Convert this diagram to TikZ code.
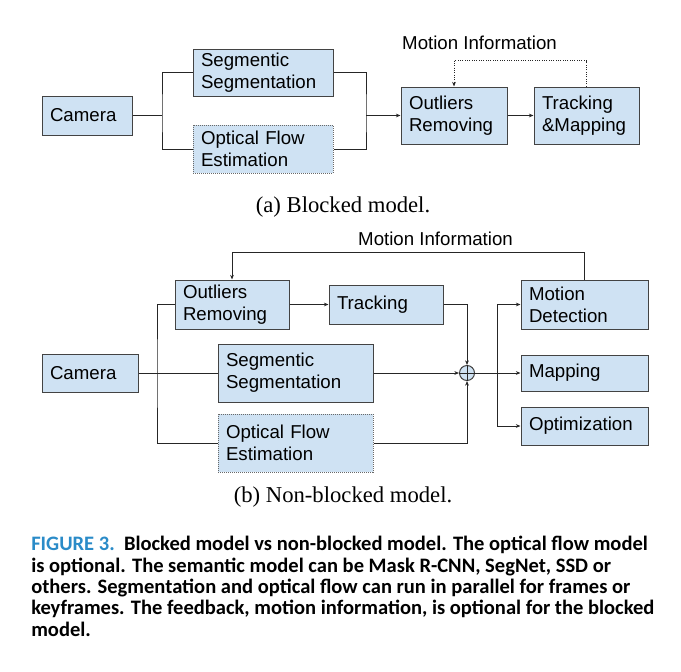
\documentclass[tikz,border=0pt]{standalone}
\usepackage{fontspec}
\setmainfont{Liberation Serif}
\newfontfamily\diagfont{Liberation Sans}
\newfontfamily\capfont{Carlito}
\usetikzlibrary{arrows.meta}
\definecolor{blockfill}{HTML}{CFE2F3}
\definecolor{blockline}{HTML}{434343}
\definecolor{capblue}{HTML}{2A8BC8}
\tikzset{block style/.style={
		draw=blockline,
		line width=0.75pt,
		fill=blockfill,
		text=black,
		rectangle,
		align=left,
		inner xsep=6pt,
		inner ysep=0pt,
		font=\diagfont\fontsize{14}{16.5}\selectfont,
	},
	optional style/.style={
		block style,
		draw=blockline!80,
		dash pattern=on 0.75pt off 0.75pt,
	},
	plus style/.style={
		draw=blockline,
		line width=0.75pt,
		fill=blockfill,
		circle,
		inner sep=0pt,
		minimum size=11.25pt,
	},
	wire style/.style={
		draw=black!85,
		line width=0.75pt,
	},
	feedback style/.style={
		wire style,
		dash pattern=on 0.75pt off 1pt,
	},
	label style/.style={
		font=\diagfont\fontsize{14}{16.5}\selectfont,
		inner sep=0pt,
	},
	caption style/.style={
		font=\fontsize{17}{20}\selectfont,
		inner sep=0pt,
	}
}

\begin{document}
\begin{tikzpicture}[x=0.75pt,y=-0.75pt,node distance=132pt,>={Stealth[length=3.5pt,width=2.8pt]}]
	\useasboundingbox (0,0) rectangle (681,671);

	% (a) blocked model
	\node[block style, text width=55.5pt, minimum height=29.25pt] (CameraA) at (87,115.5) {Camera};

	\node[block style, right of=CameraA, yshift=32.25pt, text width=93pt, minimum height=35.25pt] (SegA) {Segmentic\\Segmentation};

	\node[optional style, right of=CameraA, yshift=-25.125pt, text width=93pt, minimum height=36pt] (FlowA) {Optical Flow\\Estimation};

	\node[block style, right of=SegA, xshift=11.25pt, yshift=-32.25pt, text width=67.5pt, minimum height=42.75pt] (OutliersA) {Outliers\\Removing};

	\node[block style, right of=OutliersA, xshift=-32.625pt, text width=66.75pt, minimum height=42.75pt] (TrackMapA) {Tracking\\\&Mapping};

	\coordinate (SplitA) at (162,115.5);
	\coordinate (JoinA) at (366,115.5);

	\draw[wire style] (CameraA) -- (SplitA);
	\draw[wire style] (SegA.west) -| (SplitA) |- (FlowA.west);
	\draw[wire style] (SegA.east) -| (JoinA) |- (FlowA.east);
	\draw[wire style,->] (JoinA) -- (OutliersA);
	\draw[wire style,->] (OutliersA) -- (TrackMapA);
	\draw[feedback style,->] (TrackMapA.north) -- ++(0,-26) -| (OutliersA.north);

	\node[label style] (MotionA) at (479.5,43) {Motion Information};
	\node[caption style] (CaptionA) at (343,207) {(a) Blocked model.};

	% (b) non-blocked model
	\node[block style, text width=60pt, minimum height=28.5pt] (CameraB) at (90,373) {Camera};

	\node[block style, right of=CameraB, xshift=-25.5pt, yshift=51.375pt, text width=73.5pt, minimum height=36.75pt] (OutliersB) {Outliers\\Removing};

	\node[block style, right of=OutliersB, xshift=-16.5pt, text width=73.5pt, minimum height=29.25pt] (TrackB) {Tracking};

	\node[block style, right of=CameraB, xshift=22.125pt, text width=104.25pt, minimum height=43.5pt] (SegB) {Segmentic\\Segmentation};

	\node[optional style, right of=CameraB, xshift=22.125pt, yshift=-52.5pt, text width=104.25pt, minimum height=43.5pt] (FlowB) {Optical Flow\\Estimation};

	\node[plus style, right of=SegB, xshift=-3.375pt] (Plus) {};
	\draw[wire style] (Plus.north) -- (Plus.south) (Plus.west) -- (Plus.east);

	\node[block style, right of=Plus, xshift=-43.875pt, yshift=51.375pt, text width=83.25pt, minimum height=36.75pt] (MotionDet) {Motion\\Detection};

	\node[block style, right of=Plus, xshift=-43.875pt, text width=83.25pt, minimum height=27pt] (Mapping) {Mapping};

	\node[block style, right of=Plus, xshift=-43.875pt, yshift=-39.75pt, text width=83.25pt, minimum height=28.5pt] (Optim) {Optimization};

	\coordinate (SplitB) at (157,373);
	\coordinate (SplitC) at (497,373);

	\draw[wire style] (CameraB) -- (SegB);
	\draw[wire style] (OutliersB.west) -| (SplitB) |- (FlowB.west);
	\draw[wire style,->] (OutliersB) -- (TrackB);
	\draw[wire style,->] (TrackB.east) -| (Plus.north);
	\draw[wire style,->] (SegB) -- (Plus);
	\draw[wire style,->] (FlowB.east) -| (Plus.south);
	\draw[wire style] (Plus.east) -- (SplitC);
	\draw[wire style,->] (SplitC) |- (MotionDet.west);
	\draw[wire style,->] (SplitC) -- (Mapping);
	\draw[wire style,->] (SplitC) |- (Optim.west);
	\draw[wire style,->] (MotionDet.north) -- ++(0,-27) -| (OutliersB.north);

	\node[label style] (MotionB) at (435.5,239) {Motion Information};
	\node[caption style] (CaptionB) at (343,497) {(b) Non-blocked model.};

	% figure caption
	\node[anchor=north west, align=left, inner sep=0pt, font=\capfont\bfseries\fontsize{15.4}{16}\selectfont] (Caption) at (31,536) {\textcolor{capblue}{FIGURE 3.}\ \ Blocked model vs non-blocked model. The optical flow model\\is optional. The semantic model can be Mask R-CNN, SegNet, SSD or\\others. Segmentation and optical flow can run in parallel for frames or\\keyframes. The feedback, motion information, is optional for the blocked\\model.};
\end{tikzpicture}
\end{document}
